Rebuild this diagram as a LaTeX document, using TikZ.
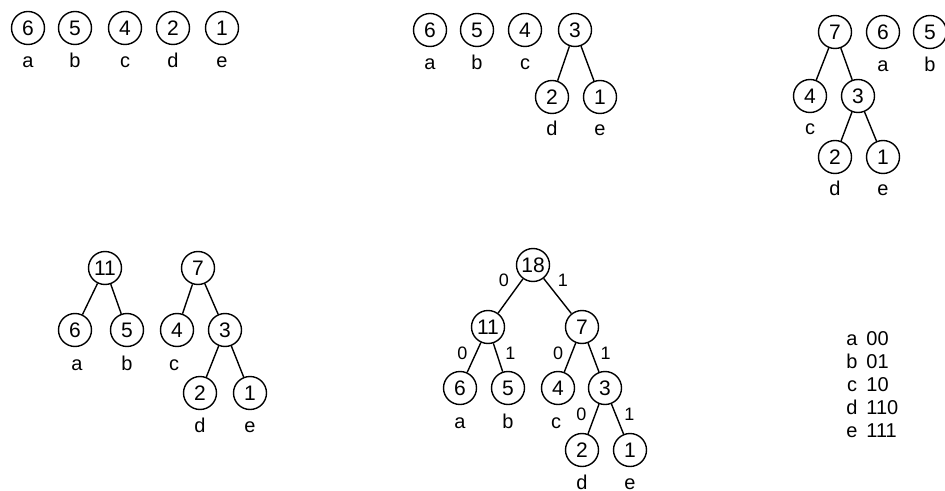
\documentclass[tikz,border=0pt]{standalone}
\usepackage{fontspec}
\setmainfont{Liberation Sans}
\usetikzlibrary{positioning}

\begin{document}
\begin{tikzpicture}[x=0.5pt, y=-0.5pt,
  wt/.style={draw, circle, line width=0.7pt, minimum size=16.5pt, inner sep=0pt, font=\fontsize{10.5}{11}\selectfont},
  ltr/.style={inner sep=0pt, text height=7pt, text depth=0pt, font=\fontsize{10}{11}\selectfont},
  bit/.style={inner sep=1pt, font=\fontsize{9}{10}\selectfont},
  edge/.style={line width=0.7pt}]
\useasboundingbox (0,0) rectangle (945,491); % page size
% step 1: the five leaves
\draw (28,28) node[wt] (pa) {6};
\draw (75,28) node[wt] (pb) {5};
\draw (125,28) node[wt] (pc) {4};
\draw (173,28) node[wt] (pd) {2};
\draw (222,28) node[wt] (pe) {1};
\draw (28,61) node[ltr] (la) {a};
\draw (75,61) node[ltr] (lb) {b};
\draw (125,61) node[ltr] (lc) {c};
\draw (173,61) node[ltr] (ld) {d};
\draw (222,61) node[ltr] (le) {e};
% step 2: d+e
\draw (430,30) node[wt] (qa) {6};
\draw (477,30) node[wt] (qb) {5};
\draw (525,30) node[wt] (qc) {4};
\draw (575,30) node[wt] (qde) {3};
\draw (552,97) node[wt] (qd) {2};
\draw (600,97) node[wt] (qe) {1};
\draw (430,63) node[ltr] (ma) {a};
\draw (477,63) node[ltr] (mb) {b};
\draw (525,63) node[ltr] (mc) {c};
\draw (552,129) node[ltr] (md) {d};
\draw (600,129) node[ltr] (me) {e};
\draw [edge] (qde) to (qd);
\draw [edge] (qde) to (qe);
% step 3: c+(d+e)
\draw (835,32) node[wt] (rcde) {7};
\draw (883,32) node[wt] (ra) {6};
\draw (930,32) node[wt] (rb) {5};
\draw (810,96) node[wt] (rc) {4};
\draw (858,96) node[wt] (rde) {3};
\draw (835,157) node[wt] (rd) {2};
\draw (883,157) node[wt] (re) {1};
\draw (883,65) node[ltr] (na) {a};
\draw (930,65) node[ltr] (nb) {b};
\draw (810,128) node[ltr] (nc) {c};
\draw (835,189) node[ltr] (nd) {d};
\draw (883,189) node[ltr] (ne) {e};
\draw [edge] (rcde) to (rc);
\draw [edge] (rcde) to (rde);
\draw [edge] (rde) to (rd);
\draw [edge] (rde) to (re);
% step 4: a+b
\draw (105,268) node[wt] (sab) {11};
\draw (75,330) node[wt] (sa) {6};
\draw (127,330) node[wt] (sb) {5};
\draw (198,268) node[wt] (scde) {7};
\draw (177,330) node[wt] (sc) {4};
\draw (225,330) node[wt] (sde) {3};
\draw (200,393) node[wt] (sd) {2};
\draw (250,393) node[wt] (se) {1};
\draw (77,363) node[ltr] (ua) {a};
\draw (127,363) node[ltr] (ub) {b};
\draw (174,363) node[ltr] (uc) {c};
\draw (200,425) node[ltr] (ud) {d};
\draw (250,425) node[ltr] (ue) {e};
\draw [edge] (sab) to (sa);
\draw [edge] (sab) to (sb);
\draw [edge] (scde) to (sc);
\draw [edge] (scde) to (sde);
\draw [edge] (sde) to (sd);
\draw [edge] (sde) to (se);
% step 5: the whole tree, with bits
\draw (533,265) node[wt] (t) {18};
\draw (488,327) node[wt] (tab) {11};
\draw (582,327) node[wt] (tcde) {7};
\draw (460,388) node[wt] (ta) {6};
\draw (508,388) node[wt] (tb) {5};
\draw (558,388) node[wt] (tc) {4};
\draw (605,388) node[wt] (tde) {3};
\draw (582,450) node[wt] (td) {2};
\draw (630,450) node[wt] (te) {1};
\draw (460,421) node[ltr] (va) {a};
\draw (508,421) node[ltr] (vb) {b};
\draw (556,421) node[ltr] (vc) {c};
\draw (582,482) node[ltr] (vd) {d};
\draw (630,482) node[ltr] (ve) {e};
\draw [edge] (t) to node[bit, pos=0.05, left=5pt] (b0) {0} (tab);
\draw [edge] (t) to node[bit, pos=0.05, right=5pt] (b1) {1} (tcde);
\draw [edge] (tab) to node[bit, pos=0.35, left=3pt] (b00) {0} (ta);
\draw [edge] (tab) to node[bit, pos=0.35, right=3pt] (b01) {1} (tb);
\draw [edge] (tcde) to node[bit, pos=0.35, left=3pt] (b10) {0} (tc);
\draw [edge] (tcde) to node[bit, pos=0.35, right=3pt] (b11) {1} (tde);
\draw [edge] (tde) to node[bit, pos=0.35, left=3pt] (b110) {0} (td);
\draw [edge] (tde) to node[bit, pos=0.35, right=3pt] (b111) {1} (te);
% the code table
\draw (852,338) node[ltr] (ka) {a};
\draw (852,361) node[ltr] (kb) {b};
\draw (852,384) node[ltr] (kc) {c};
\draw (852,407) node[ltr] (kd) {d};
\draw (852,430) node[ltr] (ke) {e};
\draw (866,338) node[ltr, anchor=west] (ca) {00};
\draw (866,361) node[ltr, anchor=west] (cb) {01};
\draw (866,384) node[ltr, anchor=west] (cc) {10};
\draw (866,407) node[ltr, anchor=west] (cd) {110};
\draw (866,430) node[ltr, anchor=west] (ce) {111};
\end{tikzpicture}
\end{document}
